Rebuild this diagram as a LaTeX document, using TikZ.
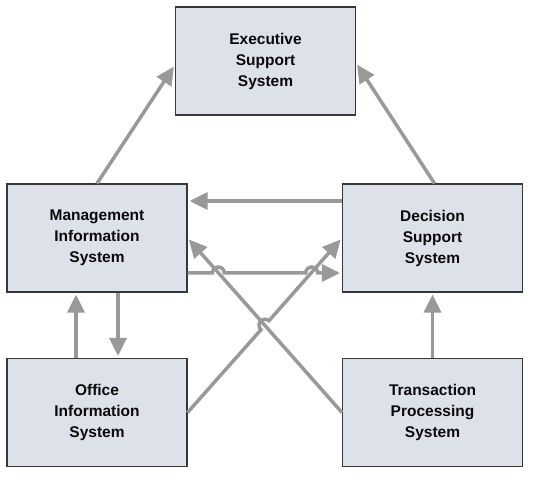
\documentclass[tikz,border=0pt]{standalone}
\usepackage{fontspec}
\setmainfont{Liberation Sans}
\usetikzlibrary{arrows.meta,calc}
\definecolor{boxfill}{RGB}{221,225,234}
\definecolor{boxline}{RGB}{55,55,55}
\definecolor{conncol}{RGB}{153,153,153}
\definecolor{txt}{RGB}{10,10,10}
\tikzset{
  sysbox/.style={draw=boxline, line width=1.1pt, fill=boxfill, minimum width=180pt, minimum height=108pt,
    align=center, font=\fontsize{15.5}{21}\selectfont\bfseries, text=txt, inner sep=0pt},
  conn/.style={draw=conncol, line width=3.5pt, -{Triangle[length=18pt,width=17pt]}, shorten >=2pt},
}
\begin{document}
\begin{tikzpicture}[x=1pt,y=1pt]
\useasboundingbox (0,0) rectangle (536,488);
\node[sysbox] (ess) at (265.5,427) {Executive\\Support\\System};
\node[sysbox] (mis) at (97,250) {Management\\Information\\System};
\node[sysbox] (dss) at (432.5,250) {Decision\\Support\\System};
\node[sysbox] (ois) at (97,75.5) {Office\\Information\\System};
\node[sysbox] (tps) at (432.5,75.5) {Transaction\\Processing\\System};

% up to ESS
\draw[conn] (mis.north) -- ([yshift=-4pt]ess.west);
\draw[conn] ([xshift=2pt]dss.north) -- ([yshift=-2pt]ess.east);
% DSS -> MIS
\draw[conn] ([yshift=37pt]dss.west) -- ([yshift=37pt]mis.east);
% MIS -> OIS, OIS -> MIS
\draw[conn] ([xshift=21pt]mis.south) -- ([xshift=21pt]ois.north);
\draw[conn] ([xshift=-21pt]ois.north) -- ([xshift=-21pt]mis.south);
% TPS -> DSS
\draw[conn] (tps.north) -- (dss.south);
% TPS -> MIS diagonal
\draw[conn] (tps.west) -- (mis.east);
% OIS -> DSS diagonal with a hop
\draw[conn] (ois.east) -- (261.0,158.3) arc[start angle=228.2,end angle=48.2,radius=6] -- (dss.west);
% MIS -> DSS horizontal with two hops
\draw[conn] ([yshift=-35pt]mis.east) -- (212.3,215) arc[start angle=180,end angle=0,radius=6]
  -- (305.7,215) arc[start angle=180,end angle=0,radius=6] -- ([yshift=-35pt]dss.west);
\end{tikzpicture}
\end{document}
